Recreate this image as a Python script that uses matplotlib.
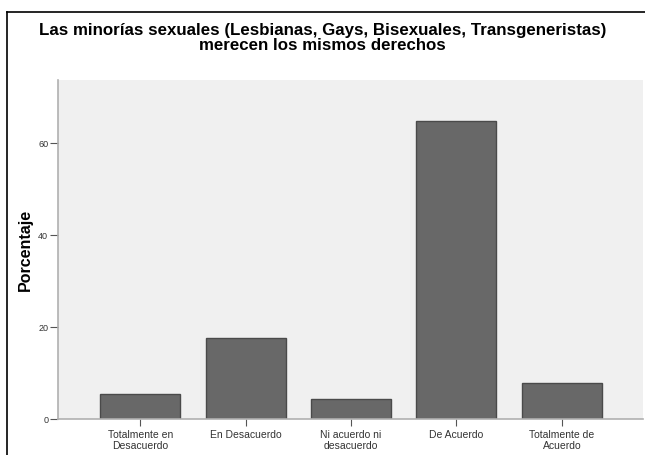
import matplotlib
matplotlib.use("Agg")
import matplotlib.pyplot as plt
from matplotlib.lines import Line2D

categorias = ["Totalmente en\nDesacuerdo", "En Desacuerdo", "Ni acuerdo ni\ndesacuerdo",
              "De Acuerdo", "Totalmente de\nAcuerdo"]
porcentaje = [5.4, 17.6, 4.3, 64.8, 7.9]
yticks = [0, 20, 40, 60]

plt.rcParams['font.family'] = ['Liberation Sans', 'DejaVu Sans']

fig = plt.figure(figsize=(6.45, 4.55), dpi=100)
ax = fig.add_axes([0.0899, 0.0791, 0.907, 0.745])
ax.set_facecolor('#f0f0f0')

x = range(len(categorias))
ax.bar(x, porcentaje, width=0.76, color='#686868', edgecolor='#4a4a4a', linewidth=1.0)

ax.set_xlim(-0.78, len(categorias) - 1 + 0.77)
ax.set_ylim(0, 73.7)
ax.set_xticks(list(x))
ax.set_xticklabels(categorias, fontsize=7.5, color='#333333', linespacing=1.1)
ax.set_yticks(yticks)
ax.set_yticklabels([str(v) for v in yticks], fontsize=6.5, color='#333333')
ax.tick_params(axis='x', length=5, width=0.8, color='#555555', pad=3)
ax.tick_params(axis='y', length=6, width=0.8, color='#555555', pad=1)

for s in ['top', 'right']:
    ax.spines[s].set_visible(False)
for s in ['left', 'bottom']:
    ax.spines[s].set_color('#b0b0b0')
    ax.spines[s].set_linewidth(1.2)

ax.set_ylabel('Porcentaje', fontsize=11.5, fontweight='bold', labelpad=4)

fig.text(0.5, 0.916, 'Las minorías sexuales (Lesbianas, Gays, Bisexuales, Transgeneristas)\nmerecen los mismos derechos',
         ha='center', va='center', fontsize=12.2, fontweight='bold', linespacing=1.0)

# marco negro (solo arriba e izquierda visibles)
fig.add_artist(Line2D([7 / 645, 7 / 645], [0, 1 - 12 / 455], color='black', lw=1.2))
fig.add_artist(Line2D([7 / 645, 1], [1 - 12 / 455, 1 - 12 / 455], color='black', lw=1.2))

fig.savefig('out.png', dpi=100)
